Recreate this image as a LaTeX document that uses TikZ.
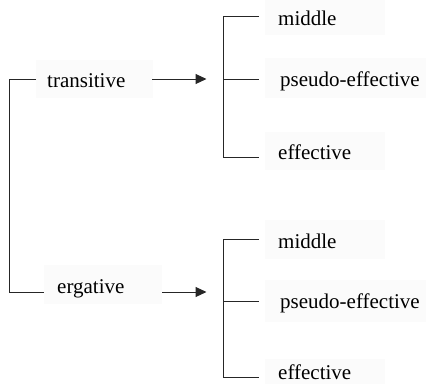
\documentclass[tikz,border=0pt]{standalone}
\usepackage{fontspec}
\setmainfont{Liberation Serif}
\usetikzlibrary{arrows.meta}
\begin{document}
\begin{tikzpicture}[x=1pt,y=-1pt,
  lbl/.style={anchor=base west,inner sep=0pt,font=\fontsize{21}{25}\selectfont},
  panel/.style={fill=black!1.5},
  link/.style={line width=1pt,draw=black!85},
  tip/.style={link,-{Triangle[length=11pt,width=10pt]}}]
\useasboundingbox (0,0) rectangle (426,384);

% faint text panels
\fill[panel] (36,60) rectangle (153,98);
\fill[panel] (44,265) rectangle (162,304);
\fill[panel] (265,0) rectangle (385,35);
\fill[panel] (265,58) rectangle (426,98);
\fill[panel] (265,132) rectangle (385,170);
\fill[panel] (265,220) rectangle (385,259);
\fill[panel] (265,280) rectangle (426,322);
\fill[panel] (265,359) rectangle (385,384);

% labels
\node[lbl] (trans) at (47,87) {transitive};
\node[lbl] (erg) at (57,293) {ergative};
\node[lbl] (tmid) at (278,25) {middle};
\node[lbl] (tpse) at (280,86) {pseudo-effective};
\node[lbl] (teff) at (278,159) {effective};
\node[lbl] (bmid) at (278,248) {middle};
\node[lbl] (bpse) at (280,308) {pseudo-effective};
\node[lbl] (beff) at (278,379) {effective};

% connector ends
\coordinate (transL) at (36,79);
\coordinate (transR) at (152,79);
\coordinate (ergL) at (44,292);
\coordinate (ergR) at (162,292);
\coordinate (transA) at (206.5,79);
\coordinate (ergA) at (206.5,292);
\coordinate (tmidL) at (259,16);
\coordinate (tpseL) at (259,79);
\coordinate (teffL) at (259,157);
\coordinate (bmidL) at (259,239.5);
\coordinate (bpseL) at (259,301.5);
\coordinate (beffL) at (259,377);

% left bracket joining the two verb classes
\draw[link] (transL) -- (9.5,79) -- (9.5,292) -- (ergL);

% arrows
\draw[tip] (transR) -- (transA);
\draw[tip] (ergR) -- (ergA);

% right brackets
\draw[link] (tmidL) -- (223.5,16) -- (223.5,157) -- (teffL);
\draw[link] (223.5,79) -- (tpseL);
\draw[link] (bmidL) -- (223.5,239.5) -- (223.5,377) -- (beffL);
\draw[link] (223.5,301.5) -- (bpseL);
\end{tikzpicture}
\end{document}
